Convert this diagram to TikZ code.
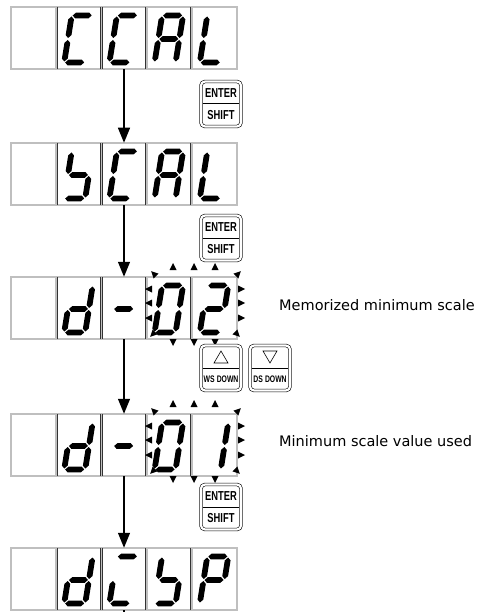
\documentclass[tikz,border=0pt]{standalone}
\usepackage{fontspec}
\setmainfont{DejaVu Sans}
\newfontfamily\keyfont{Liberation Sans}
\usetikzlibrary{arrows.meta}

% one segment of a digit: horizontal at height #1, vertical at x=#1 from #2 to #3
\newcommand{\hseg}[1]{\fill (1,#1) -- (3.9,#1-2.9) -- (17.1,#1-2.9) -- (20,#1) -- (17.1,#1+2.9) -- (3.9,#1+2.9) -- cycle;}
\newcommand{\vseg}[3]{\fill (#1,#2+1) -- (#1+2.9,#2+3.9) -- (#1+2.9,#3-3.9) -- (#1,#3-1) -- (#1-2.9,#3-3.9) -- (#1-2.9,#2+3.9) -- cycle;}
\newcommand{\dsega}{\hseg{0}}
\newcommand{\dsegg}{\hseg{23.5}}
\newcommand{\dsegd}{\hseg{47}}
\newcommand{\dsegf}{\vseg{0}{0}{23.5}}
\newcommand{\dsege}{\vseg{0}{23.5}{47}}
\newcommand{\dsegb}{\vseg{21}{0}{23.5}}
\newcommand{\dsegc}{\vseg{21}{23.5}{47}}

% digit in cell #1 of the display with top #2, lit segments #3
\newcommand{\digit}[3]{%
  \begin{scope}[shift={(11+45.2*#1+15.5,#2+8.5)},xslant=0.16]
    \foreach \s in #3 {\csname dseg\s\endcsname}
  \end{scope}}

% blinking mark at (#1,#2) pointing to #3 degrees
\newcommand{\blink}[3]{\fill[shift={(#1,#2)},rotate=#3] (4,0) -- (-3,3.5) -- (-3,-3.5) -- cycle;}

\newcommand{\narrow}[1]{\scalebox{0.72}[1]{#1}}

\begin{document}
\begin{tikzpicture}[x=1pt,y=-1pt,
  disp/.style={draw=black!80, double=gray!50, double distance=1.8pt, line width=0.5pt,
    minimum width=226pt, minimum height=62pt, inner sep=0pt},
  cellline/.style={draw=black!80, double=gray!50, double distance=1.8pt, line width=0.5pt},
  flow/.style={line width=1.3pt, -{Triangle[length=15pt,width=12pt]}},
  key/.style={draw, line width=0.6pt, double, double distance=2.2pt, rounded corners=4pt,
    minimum width=40pt, minimum height=45pt, inner sep=0pt},
  keytxt/.style={font=\keyfont\bfseries\fontsize{13}{13}\selectfont, inner sep=0pt},
  keysmall/.style={font=\keyfont\bfseries\fontsize{9.5}{9.5}\selectfont, inner sep=0pt},
  note/.style={font=\fontsize{14.5}{16}\selectfont, anchor=west, inner sep=0pt}]
\useasboundingbox (0,0) rectangle (501,612);

% displays
\node[disp] (disp1) at (124,38) {};
\node[disp] (disp2) at (124,174) {};
\node[disp] (disp3) at (124,308) {};
\node[disp] (disp4) at (124,445) {};
\node[disp] (disp5) at (124,579) {};
\foreach \T in {7,143,277,414,548}
  \foreach \i in {1,...,4}
    \draw[cellline] (11+45.2*\i,\T) -- (11+45.2*\i,\T+62);

% characters
\foreach \c/\sg in {1/{a,d,e,f},2/{a,d,e,f},3/{a,b,c,e,f,g},4/{d,e,f}}
  \digit{\c}{7}{\sg};
\foreach \c/\sg in {1/{c,d,f,g},2/{a,d,e,f},3/{a,b,c,e,f,g},4/{d,e,f}}
  \digit{\c}{143}{\sg};
\foreach \c/\sg in {1/{b,c,d,e,g},2/{g},3/{a,b,c,d,e,f},4/{a,b,d,e,g}}
  \digit{\c}{277}{\sg};
\foreach \c/\sg in {1/{b,c,d,e,g},2/{g},3/{a,b,c,d,e,f},4/{b,c}}
  \digit{\c}{414}{\sg};
\foreach \c/\sg in {1/{b,c,d,e,g},2/{a,d,e},3/{c,d,f,g},4/{a,b,e,f,g}}
  \digit{\c}{548}{\sg};

% blinking digits
\foreach \T in {277,414} {
  \foreach \x in {173,194,215} {
    \blink{\x}{\T-10}{90}
    \blink{\x}{\T+65}{270}
  }
  \foreach \y in {12,26,41} {
    \blink{149}{\T+\y}{180}
    \blink{241}{\T+\y}{0}
  }
  \blink{154}{\T-3}{135}
  \blink{238}{\T-3}{45}
  \blink{153}{\T+57}{225}
  \blink{237}{\T+57}{315}
}

% flow
\draw[flow] (disp1) -- (disp2);
\draw[flow] (disp2) -- (disp3);
\draw[flow] (disp3) -- (disp4);
\draw[flow] (disp4) -- (disp5);
\coordinate (tail) at (124,612);
\draw[line width=1.3pt] (disp5) -- (tail);

% keys
\node[key] (enter1) at (221,104) {};
\node[key] (enter2) at (221,238) {};
\node[key] (ws) at (221,368) {};
\node[key] (ds) at (270,368) {};
\node[key] (enter3) at (221,507) {};
\foreach \k in {enter1,enter2,enter3,ws,ds}
  \draw[line width=1pt] ([xshift=2pt]\k.west) -- ([xshift=-2pt]\k.east);
\foreach \k in {enter1,enter2,enter3} {
  \node[keytxt] at ([yshift=11pt]\k.center) {\narrow{ENTER}};
  \node[keytxt] at ([yshift=-11pt]\k.center) {\narrow{SHIFT}};
}
\draw[line width=0.6pt] ([shift={(-7pt,5pt)}]ws.center) -- ([shift={(7pt,5pt)}]ws.center)
  -- ([shift={(0pt,17pt)}]ws.center) -- cycle;
\draw[line width=0.6pt] ([shift={(-7pt,17pt)}]ds.center) -- ([shift={(7pt,17pt)}]ds.center)
  -- ([shift={(0pt,5pt)}]ds.center) -- cycle;
\node[keysmall] at ([yshift=-11pt]ws.center) {\narrow{WS\hspace{3pt}DOWN}};
\node[keysmall] at ([yshift=-11pt]ds.center) {\narrow{DS\hspace{3pt}DOWN}};

% notes
\node[note] (lbl1) at (279,305) {Memorized minimum scale};
\node[note] (lbl2) at (279,441) {Minimum scale value used};
\end{tikzpicture}
\end{document}
